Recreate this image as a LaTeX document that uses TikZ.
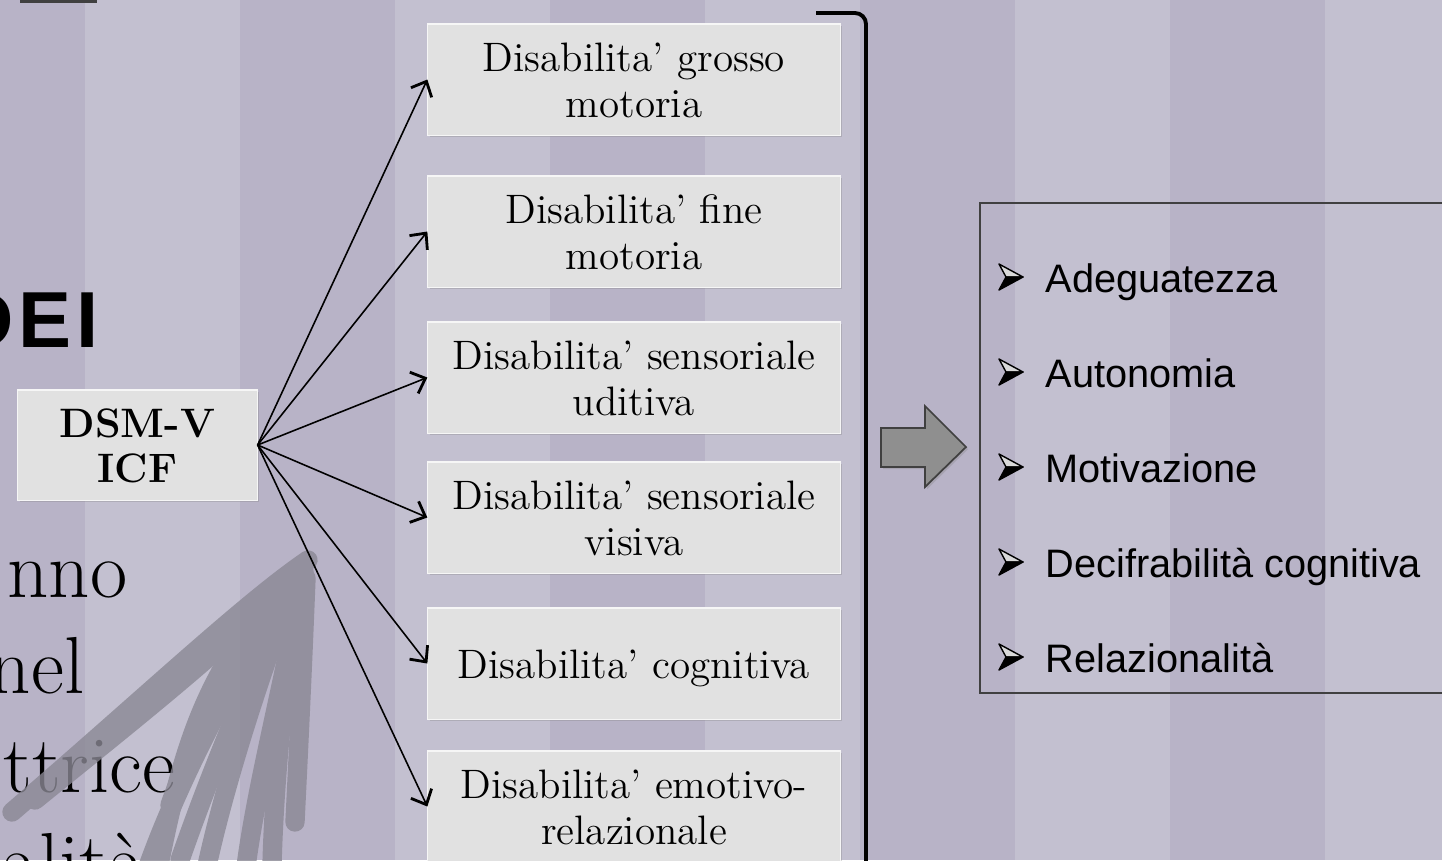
\documentclass[tikz,border=0pt]{standalone}
\usepackage{fontspec}
\usepackage{tikz}
\usetikzlibrary{shadows}
\usetikzlibrary{arrows.meta}

\newfontfamily\arialfont{Liberation Sans}
\definecolor{fondochiaro}{HTML}{C3C0D0}
\definecolor{fondoscuro}{HTML}{B8B3C7}
\definecolor{grigiobox}{HTML}{E1E1E1}
\definecolor{pennello}{HTML}{8A8894}
\newcommand{\testo}[1]{\raisebox{-4.7pt}[0pt][0pt]{\begin{tabular}{c}#1\end{tabular}}}

\begin{document}
\begin{tikzpicture}[x=0.01cm,y=-0.01cm,
		boite/.style={fill=grigiobox,draw=white!70!grigiobox,line width=0.3pt,minimum width=4.12cm,minimum height=1.11cm,inner sep=0pt,drop shadow={shadow xshift=0.5pt,shadow yshift=-0.6pt,opacity=0.3},font=\fontsize{11.7}{13.1}\selectfont},
		freccina/.style={-{Straight Barb[length=3.5pt,width=6.5pt,line width=0.8pt]},line width=0.45pt},
		brush/.style={draw=pennello,line width=5.5pt,line cap=round,line join=round},
		resto/.style={anchor=base east,inner sep=0pt,font=\fontsize{23}{27}\selectfont},
		voce/.style={anchor=base west,inner sep=0pt,font=\arialfont\fontsize{11.3}{13}\selectfont}]
		\clip (0,0) rectangle (1442,860);
		
		\fill[fondochiaro] (0,0) rectangle (1442,860);
		\foreach \sx in {-70,240,...,1170}
			\fill[fondoscuro] (\sx,0) rectangle ++(155,860);
		\fill[black!75] (20,0) rectangle (97,3);
		
		\node[anchor=base east,inner sep=0pt,font=\arialfont\bfseries\fontsize{22.6}{24}\selectfont\addfontfeature{LetterSpace=6}] (dei) at (99,347) {DEI};
		\foreach \yb/\xe/\parola [count=\i] in {597/128/nno,693/85/nel,792/176/ttrice,889/146/alità}
			\node[resto] (riga\i) at (\xe,\yb) {\parola};
		
		\begin{scope}[transparency group,opacity=0.8]
			\draw[brush] (308,560) .. controls (245,603) and (150,693) .. (12,812);
			\draw[brush] (298,572) .. controls (235,640) and (140,715) .. (35,800);
			\draw[brush] (302,566) .. controls (255,640) and (185,760) .. (145,875);
			\draw[brush] (298,574) .. controls (265,660) and (225,780) .. (205,875);
			\draw[brush] (304,570) .. controls (285,680) and (255,790) .. (245,875);
			\draw[brush] (306,578) .. controls (302,680) and (298,760) .. (295,822);
			\draw[brush] (290,588) .. controls (245,650) and (200,720) .. (170,805);
			\draw[brush] (296,600) .. controls (282,700) and (274,790) .. (272,865);
			\draw[brush] (285,600) .. controls (250,680) and (215,760) .. (180,860);
			\draw[brush] (240,640) .. controls (200,700) and (180,760) .. (160,860);
		\end{scope}
		
		\node[boite,minimum width=2.39cm,minimum height=1.10cm,font=\bfseries\fontsize{11.7}{12.8}\selectfont] (dsm) at (137.5,445) {\testo{DSM-V\\ICF}};
		
		\node[boite] (grosso) at (634,79.5) {\testo{Disabilita’ grosso\\motoria}};
		\node[boite] (fine) at (634,231.5) {\testo{Disabilita’ fine\\motoria}};
		\node[boite] (uditiva) at (634,377.5) {\testo{Disabilita’ sensoriale\\uditiva}};
		\node[boite] (visiva) at (634,517.5) {\testo{Disabilita’ sensoriale\\visiva}};
		\node[boite] (cognitiva) at (634,663.5) {\testo{Disabilita’ cognitiva}};
		\node[boite] (emotivo) at (634,806.5) {\testo{Disabilita’ emotivo-\\relazionale}};
		
		\foreach \b in {grosso,fine,uditiva,visiva,cognitiva,emotivo}
			\draw[freccina] (dsm.east) -- (\b.west);
		
		\draw[line width=1.1pt] (816,13) -- (855,13) to[out=0,in=90] (866,24) -- (866,870);
		
		\draw[fill=black!44,draw=black!75,line width=0.5pt,drop shadow={shadow xshift=0.6pt,shadow yshift=-0.6pt,opacity=0.3}] (881,428) -- (925,428) -- (925,406) -- (966,447) -- (925,487) -- (925,467) -- (881,467) -- cycle;
		
		\node[draw=black!75,line width=0.6pt,minimum width=4.9cm,minimum height=4.9cm,anchor=north west,inner sep=0pt] (lista) at (979,202) {};
		\foreach \yb/\voce [count=\i] in {292/Adeguatezza,387/Autonomia,482/Motivazione,577/Decifrabilità cognitiva,672/Relazionalità}{
			\filldraw[fill=white!85!black,draw=black,line width=0.4pt,line join=round] (999,\yb-28) -- (1023,\yb-15) -- (1006,\yb-15) -- cycle;
			\filldraw[fill=black,draw=black,line width=0.4pt,line join=round] (1006,\yb-15) -- (1023,\yb-15) -- (999,\yb-2) -- cycle;
			\node[voce] (v\i) at (1045,\yb) {\voce};
		}
	\end{tikzpicture}
\end{document}
